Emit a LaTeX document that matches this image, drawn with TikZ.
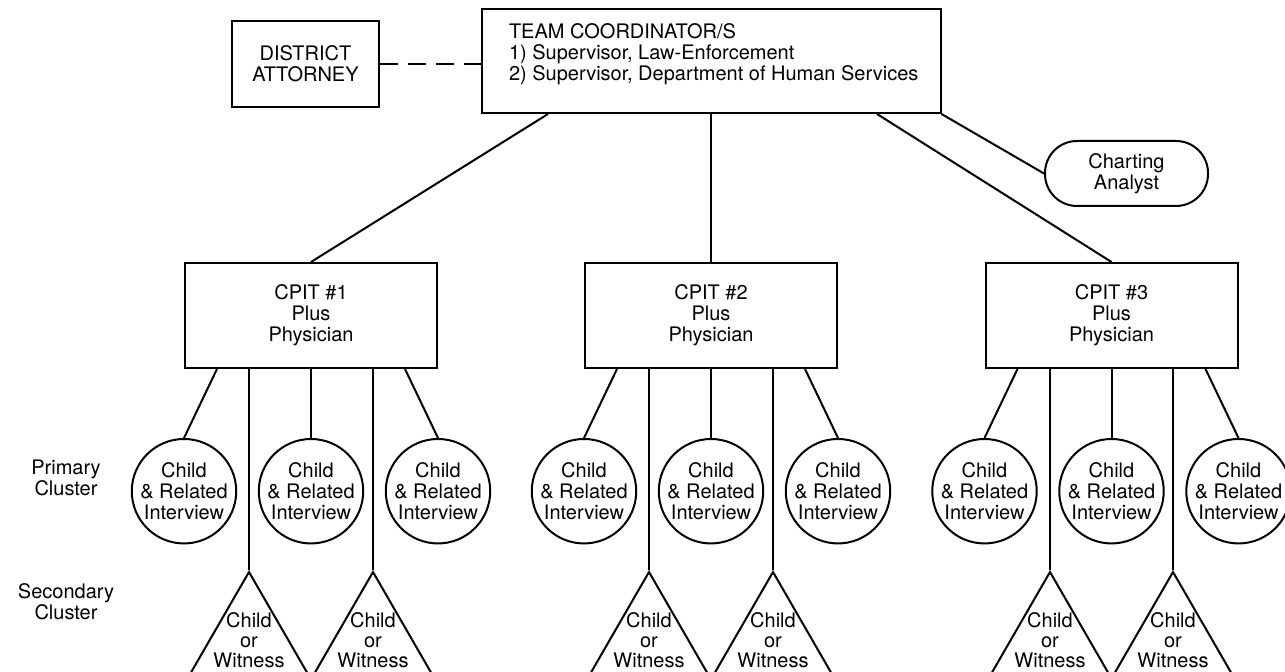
\documentclass[tikz,border=0pt]{standalone}
\usepackage{fontspec}
\setmainfont{TeX Gyre Heros}
\usetikzlibrary{positioning,shapes.geometric}

\begin{document}
\begin{tikzpicture}[
		x=0.5pt,y=-0.5pt,
		line width=1pt,
		font=\fontsize{10}{10.5}\selectfont,
		node distance=34.5pt and 0pt,
		team/.style={draw,align=center,minimum width=126pt,minimum height=52.5pt},
		kid/.style={draw,circle,align=center,inner sep=0pt,minimum size=52pt},
		witness/.style={draw,regular polygon,regular polygon sides=3,inner sep=0pt,minimum size=72pt,
			label={[align=center,yshift=2pt,font=\fontsize{10}{10}\selectfont]center:Child\\or\\Witness}}
		]
		\useasboundingbox (0,0) rectangle (1285,672);
		\node[draw,minimum width=229.5pt,minimum height=52pt] (tc) at (711,61) {};
		\node[anchor=west,align=left,inner sep=0pt] (tctext) at (508,54)
		{TEAM COORDINATOR/S\\
			1) Supervisor, Law-Enforcement\\
			2) Supervisor, Department of Human Services};
		\node[draw,align=center,minimum width=73.5pt,minimum height=43pt] (da) at (305.5,64) {DISTRICT\\ATTORNEY};
		\node[draw,rounded corners=16pt,align=center,minimum width=81.5pt,minimum height=32.5pt] (ca) at (1126.5,173.5) {Charting\\Analyst};
		\node[team] (cp1) at (311,315.5) {CPIT \#1\\Plus\\Physician};
		\node[team] (cp2) at (711,315.5) {CPIT \#2\\Plus\\Physician};
		\node[team] (cp3) at (1111.5,315.5) {CPIT \#3\\Plus\\Physician};
		% primary cluster
		\node[kid,below=of cp1.south west] (k11) {Child\\\& Related\\Interview};
		\node[kid,below=of cp1] (k12) {Child\\\& Related\\Interview};
		\node[kid,below=of cp1.south east] (k13) {Child\\\& Related\\Interview};
		\node[kid,below=of cp2.south west] (k21) {Child\\\& Related\\Interview};
		\node[kid,below=of cp2] (k22) {Child\\\& Related\\Interview};
		\node[kid,below=of cp2.south east] (k23) {Child\\\& Related\\Interview};
		\node[kid,below=of cp3.south west] (k31) {Child\\\& Related\\Interview};
		\node[kid,below=of cp3] (k32) {Child\\\& Related\\Interview};
		\node[kid,below=of cp3.south east] (k33) {Child\\\& Related\\Interview};
		% secondary cluster
		\node[witness] (w11) at (249,644) {};
		\node[witness] (w12) at (373,644) {};
		\node[witness] (w21) at (649,644) {};
		\node[witness] (w22) at (773,644) {};
		\node[witness] (w31) at (1050,644) {};
		\node[witness] (w32) at (1173,644) {};
		\node[align=center] (prim) at (66,478) {Primary\\Cluster};
		\node[align=center] (sec) at (66,602) {Secondary\\Cluster};
		\path
		(da.east) edge[dash pattern=on 9pt off 5pt] (da.east -| tc.west)
		([xshift=-81.5pt]tc.south) edge (cp1.north)
		(tc.south) edge (cp2.north)
		([xshift=83pt]tc.south) edge (cp3.north)
		(tc.south east) edge (ca.west);
		\path
		([xshift=-47pt]cp1.south) edge (k11.north)
		(w11.corner 1 |- cp1.south) edge (w11.corner 1)
		(cp1.south) edge (k12.north)
		(w12.corner 1 |- cp1.south) edge (w12.corner 1)
		([xshift=47pt]cp1.south) edge (k13.north);
		\path
		([xshift=-47pt]cp2.south) edge (k21.north)
		(w21.corner 1 |- cp2.south) edge (w21.corner 1)
		(cp2.south) edge (k22.north)
		(w22.corner 1 |- cp2.south) edge (w22.corner 1)
		([xshift=47pt]cp2.south) edge (k23.north);
		\path
		([xshift=-47pt]cp3.south) edge (k31.north)
		(w31.corner 1 |- cp3.south) edge (w31.corner 1)
		(cp3.south) edge (k32.north)
		(w32.corner 1 |- cp3.south) edge (w32.corner 1)
		([xshift=47pt]cp3.south) edge (k33.north);
	\end{tikzpicture}
\end{document}
